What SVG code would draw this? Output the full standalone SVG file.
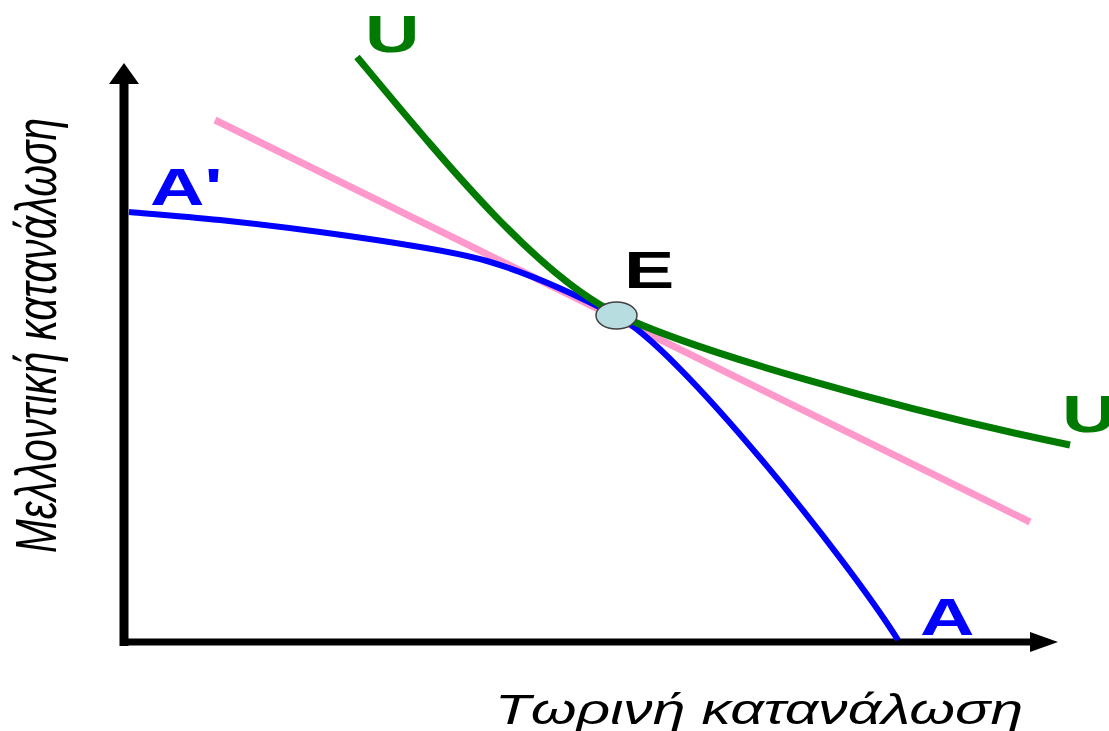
<svg xmlns="http://www.w3.org/2000/svg" width="1109" height="731" viewBox="0 0 1109 731">
<style>
.ax{stroke:#000;fill:none}
.ah{fill:#000}
.crv{fill:none;stroke-linecap:butt;stroke-linejoin:round}
.lbl{font-family:"Liberation Sans",Arial,sans-serif;font-weight:bold;font-size:52px}
.axl{font-family:"Liberation Sans",Arial,sans-serif;font-style:italic;fill:#000}
</style>
<rect width="1109" height="731" fill="#fff"/>
<g id="connectors">
  <g id="y-axis">
    <line class="ax" x1="124" y1="646" x2="124" y2="80" stroke-width="9"/>
    <polygon class="ah" points="124,63 109,84 139,84"/>
  </g>
  <g id="x-axis">
    <line class="ax" x1="120" y1="642" x2="1034" y2="642" stroke-width="7"/>
    <polygon class="ah" points="1058,642 1030,632 1030,652"/>
  </g>
</g>
<g id="budget-line">
  <line class="crv" x1="215" y1="120" x2="1030" y2="522" stroke="#ff99cc" stroke-width="7"/>
</g>
<g id="curve-AA">
  <path class="crv" d="M129,212 C144.2,213.3 188.2,216.7 220,220 C251.8,223.3 286.7,227.5 320,232 C353.3,236.5 392.2,242.3 420,247 C447.8,251.7 466,255 487,261 C509.2,267.5 550,281 617,316 C677,346 848,560 898,640" stroke="#0000ff" stroke-width="6"/>
</g>
<g id="curve-UU">
  <path class="crv" d="M357,57 C447,165 537,275 617,314 C690,350 900,410 1070,445" stroke="#007a00" stroke-width="7"/>
</g>
<g id="point-E">
  <ellipse cx="616.5" cy="315.5" rx="20.5" ry="13.5" fill="#b8dde0" stroke="#404040" stroke-width="1.5"/>
  <text class="lbl" fill="#000" transform="translate(624,288) scale(1.45,1)">E</text>
</g>
<g id="label-U-top">
  <text class="lbl" fill="#007a00" transform="translate(365,52) scale(1.45,1)">U</text>
</g>
<g id="label-U-right">
  <text class="lbl" fill="#007a00" transform="translate(1062,432) scale(1.45,1)">U</text>
</g>
<g id="label-A-prime">
  <text class="lbl" fill="#0000ff" transform="translate(150,205) scale(1.45,1)">A'</text>
</g>
<g id="label-A">
  <text class="lbl" fill="#0000ff" transform="translate(920,635) scale(1.45,1)">A</text>
</g>
<g id="axis-labels">
  <text class="axl" x="495" y="724" font-size="42" textLength="528" lengthAdjust="spacingAndGlyphs">Τωρινή κατανάλωση</text>
  <text class="axl" font-size="40" textLength="435" lengthAdjust="spacingAndGlyphs" transform="translate(56,553) rotate(-90) scale(1,1.45)">Μελλοντική κατανάλωση</text>
</g>
</svg>
